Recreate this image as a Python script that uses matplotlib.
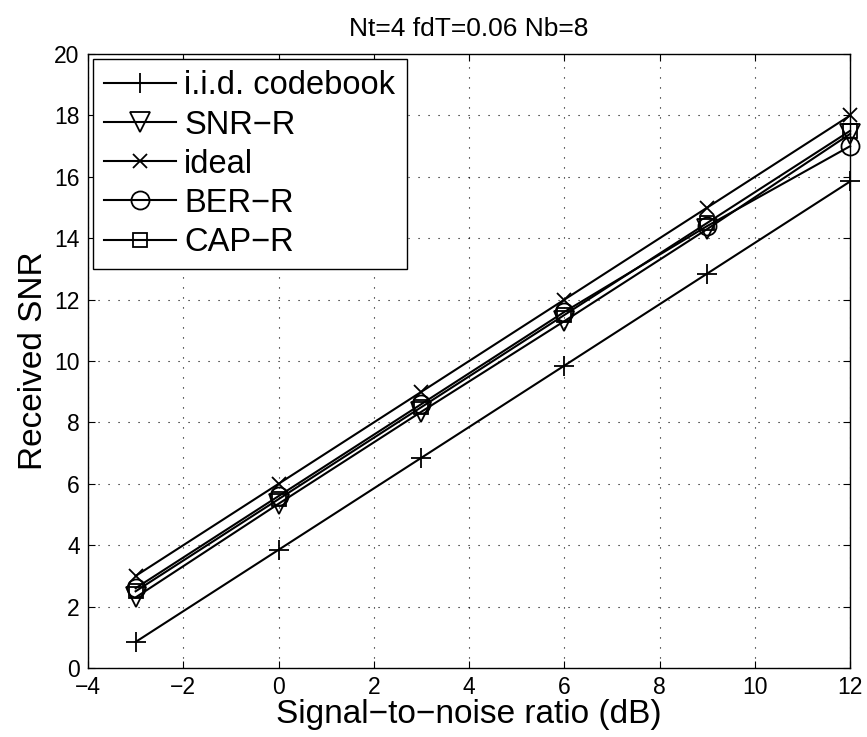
import numpy as np
from matplotlib import pyplot as plt

# data
snr_db = [-3, 0, 3, 6, 9, 12]
iid_codebook = [0.85, 3.85, 6.85, 9.85, 12.85, 15.85]
snr_r = [2.3, 5.35, 8.35, 11.3, 14.3, 17.4]
ideal = [3.0, 6.0, 9.0, 12.0, 15.0, 18.0]
ber_r = [2.6, 5.6, 8.6, 11.6, 14.4, 17.0]
cap_r = [2.5, 5.5, 8.5, 11.5, 14.5, 17.5]

plt.rcParams['font.family'] = ['Liberation Sans', 'DejaVu Sans']

fig = plt.figure(figsize=(8.67, 7.37), dpi=100)
ax = fig.add_axes([0.1015, 0.0936, 0.879, 0.833])

style = dict(color='black', linewidth=1.5, markersize=14, markerfacecolor='none',
             markeredgewidth=1.3, clip_on=False)
ax.plot(snr_db, iid_codebook, marker='+', label='i.i.d. codebook', **style)
ax.plot(snr_db, snr_r, marker='v', label='SNR\u2212R', **style)
ax.plot(snr_db, ideal, marker='x', label='ideal', **dict(style, markersize=10))
ax.plot(snr_db, ber_r, marker='o', label='BER\u2212R', **dict(style, markersize=13))
ax.plot(snr_db, cap_r, marker='s', label='CAP\u2212R', **dict(style, markersize=10))

ax.set_xlim(-4, 12)
ax.set_ylim(0, 20)
ax.set_xticks(np.arange(-4, 13, 2))
ax.set_yticks(np.arange(0, 21, 2))
ax.tick_params(direction='in', top=True, right=True, labelsize=16.5, length=5, pad=6)
ax.grid(True, linestyle=(0, (1, 8)), color='black', linewidth=0.8)
for s in ax.spines.values():
    s.set_linewidth(1.0)

ax.set_xlabel('Signal\u2212to\u2212noise ratio (dB)', fontsize=24, labelpad=0)
ax.set_ylabel('Received SNR', fontsize=24, labelpad=4)
ax.set_title('Nt=4 fdT=0.06 Nb=8', fontsize=19, pad=13)

leg = ax.legend(loc='upper left', fontsize=23.5, handlelength=2.2, fancybox=False,
                edgecolor='black', framealpha=1, borderaxespad=0.15,
                labelspacing=0.25, handletextpad=0.25, borderpad=0.35)
leg.get_frame().set_linewidth(1.0)

fig.savefig('out.png', dpi=100)
